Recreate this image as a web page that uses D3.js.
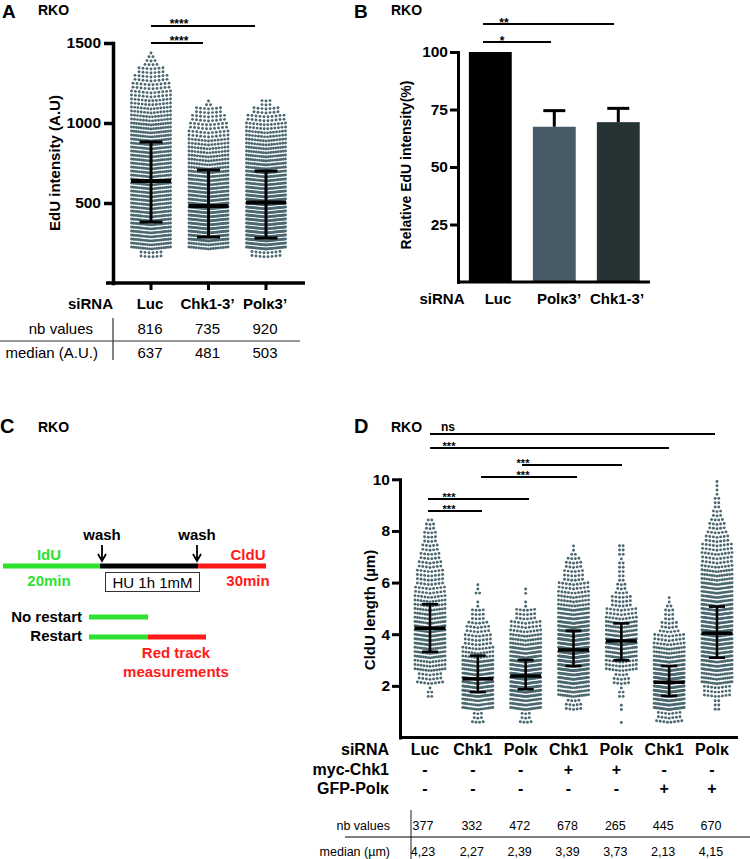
<!DOCTYPE html>
<html><head><meta charset="utf-8">
<script src="https://cdn.jsdelivr.net/npm/d3@7"></script>
<style>
body{margin:0;background:#fff}
svg{display:block}
text{font-family:"Liberation Sans",Arial,Helvetica,sans-serif}
</style>
</head><body>
<svg id="c" width="750" height="859"></svg>
<script>
// ================= DATA =================
// Panel A
const aGroups = ["Luc", "Chk1-3’", "Polκ3’"];
const aNbValues = ["816", "735", "920"];
const aMedianLabels = ["637", "481", "503"];
const aMedian = [637, 481, 503];
const aUpper = [881, 706, 700];
const aLower = [381, 287, 281];
const aYTicks = [500, 1000, 1500];
const aBinStart = 150, aBinStep = 50; // counts per 50 A.U. bin
const aLucBins = [12,36,44,44,44,44,40,40,40,40,40,40,42,40,38,36,34,28,26,24,22,20,18,14,7,3];
const aChkBins = [0,34,64,68,68,66,60,54,48,42,38,32,30,28,26,22,20,18,14,3];
const aPolBins = [16,60,76,78,78,76,72,66,60,54,48,42,38,34,30,28,24,20,14,6];

// Panel B
const bGroups = ["Luc", "Polκ3’", "Chk1-3’"];
const bValues = [100, 67.5, 69.5];
const bErrors = [0, 7, 6];
const bColors = ["#000000", "#465b65", "#253335"];
const bYTicks = [25, 50, 75, 100];

// Panel D
const dSiRNA = ["Luc", "Chk1", "Polκ", "Chk1", "Polκ", "Chk1", "Polκ"];
const dMyc = ["-", "-", "-", "+", "+", "-", "-"];
const dGfp = ["-", "-", "-", "-", "-", "+", "+"];
const dNbValues = ["377", "332", "472", "678", "265", "445", "670"];
const dMedianLabels = ["4,23", "2,27", "2,39", "3,39", "3,73", "2,13", "4,15"];
const dMedian = [4.23, 2.27, 2.38, 3.39, 3.74, 2.14, 4.04];
const dUpper = [5.16, 3.17, 3.0, 4.14, 4.42, 2.77, 5.07];
const dLower = [3.32, 1.76, 1.87, 2.77, 2.99, 1.61, 3.09];
const dYTicks = [2, 4, 6, 8, 10];
const dBinStart = 0.5, dBinStep = 0.5; // counts per 0.5 µm bin
const dLucBins   = [0,0,5,22,34,44,50,46,38,32,26,24,20,16,12,8];
const dChkBins   = [10,46,70,62,50,32,24,20,12,2,4];
const dPolBins   = [10,52,90,96,80,56,38,28,18,2,2];
const dChkMycBins= [0,14,44,80,106,108,98,78,52,34,28,18,14,4];
const dPolMycBins= [1,2,5,14,30,48,50,42,28,18,10,6,5,6];
const dChkGfpBins= [22,70,100,92,64,40,28,16,9,4];
const dPolGfpBins= [0,6,24,44,62,70,74,74,66,58,48,38,28,28,20,14,8,5,3];

// ================= HELPERS =================
const svg = d3.select("#c");
const DOT = "#4b6871";
function txt(g, x, y, s, o = {}) {
  return g.append("text").attr("x", x).attr("y", y).text(s)
    .attr("font-size", o.size || 15)
    .style("font-weight", o.bold ? "bold" : "normal")
    .attr("text-anchor", o.anchor || "start")
    .attr("fill", o.fill || "#000");
}
function line(g, x1, y1, x2, y2, w, c = "#000", cap = "butt") {
  return g.append("line").attr("x1", x1).attr("y1", y1).attr("x2", x2).attr("y2", y2)
    .attr("stroke", c).attr("stroke-width", w).attr("stroke-linecap", cap);
}
// dot layout from binned counts: rows inside each bin, dots spread horizontally
function swarm(bins, start, step, rowsPerBin, maxW, dx) {
  const pts = [];
  bins.forEach((c, i) => {
    const base = Math.floor(c / rowsPerBin), extra = c % rowsPerBin;
    for (let r = 0; r < rowsPerBin; r++) {
      const n = base + (r < extra ? 1 : 0);
      if (!n) continue;
      const v = start + step * i + step * (r + 0.5) / rowsPerBin;
      const sp = n > 1 ? Math.min(dx, maxW / (n - 1)) : 0;
      for (let k = 0; k < n; k++) {
        const off = (k - (n - 1) / 2) * sp;
        pts.push({ v, off, rel: Math.abs(off) / (maxW / 2) });
      }
    }
  });
  return pts;
}
function styleAxis(g, w, size) {
  g.select(".domain").attr("stroke-width", w).attr("stroke-linecap", "square");
  g.selectAll(".tick line").attr("stroke-width", w);
  g.selectAll(".tick text").attr("font-size", size).style("font-weight", "bold")
    .style("font-family", '"Liberation Sans",Arial,sans-serif').attr("fill", "#000");
}

// ================= PANEL A =================
{
  const g = svg.append("g");
  txt(g, 2, 18, "A", { size: 19, bold: true });
  txt(g, 38, 15, "RKO", { size: 14, bold: true });
  const y = d3.scaleLinear().domain([0, 1500]).range([283, 43]);
  const x = d3.scalePoint().domain(aGroups).range([151, 266]);
  const binsList = [aLucBins, aChkBins, aPolBins];
  binsList.forEach((bins, i) => {
    const pts = swarm(bins, aBinStart, aBinStep, 2, 39, 4.0);
    g.append("g").selectAll("circle").data(pts).join("circle")
      .attr("cx", d => x(aGroups[i]) + d.off)
      .attr("cy", d => y(d.v) - d.rel * 2.0)
      .attr("r", 1.45).attr("fill", DOT);
  });
  aGroups.forEach((c, i) => {
    const cx = x(c);
    line(g, cx, y(aUpper[i]), cx, y(aLower[i]), 3);
    line(g, cx - 11.5, y(aUpper[i]), cx + 11.5, y(aUpper[i]), 3);
    line(g, cx - 11.5, y(aLower[i]), cx + 11.5, y(aLower[i]), 3);
    line(g, cx - 20, y(aMedian[i]), cx + 20, y(aMedian[i]), 4);
  });
  const ax = g.append("g").attr("transform", "translate(113,0)")
    .call(d3.axisLeft(y).tickValues(aYTicks).tickFormat(d3.format("d")).tickSize(9).tickSizeOuter(0).tickPadding(3));
  styleAxis(ax, 3.5, 15.5);
  line(g, 106, y(0), 305, y(0), 3.5);
  aGroups.forEach(c => line(g, x(c), y(0), x(c), y(0) + 7, 3));
  g.append("text").attr("transform", "translate(60,163) rotate(-90)")
    .attr("text-anchor", "middle").attr("font-size", 15).style("font-weight", "bold").text("EdU intensity (A.U)");
  // significance
  line(g, 151, 26, 255, 26, 2);
  txt(g, 179, 28, "****", { size: 12, bold: true, anchor: "middle" });
  line(g, 151, 43, 203, 43, 2);
  txt(g, 179, 45, "****", { size: 12, bold: true, anchor: "middle" });
  // table
  txt(g, 113, 309, "siRNA", { bold: true, anchor: "end" });
  aGroups.forEach((c, i) => txt(g, x(c) - 1, 309, c, { bold: true, anchor: "middle" }));
  txt(g, 93, 334, "nb values", { anchor: "end" });
  txt(g, 98, 358, "median (A.U.)", { anchor: "end" });
  line(g, 113, 318, 113, 360, 1.2, "#333");
  line(g, 0, 341, 300, 341, 1, "#333");
  aGroups.forEach((c, i) => {
    txt(g, x(c) - 1, 334, aNbValues[i], { anchor: "middle" });
    txt(g, x(c) - 1, 358, aMedianLabels[i], { anchor: "middle" });
  });
}

// ================= PANEL B =================
{
  const g = svg.append("g");
  txt(g, 354, 18, "B", { size: 19, bold: true });
  txt(g, 391, 15, "RKO", { size: 14, bold: true });
  const y = d3.scaleLinear().domain([0, 100]).range([282, 52]);
  const x = d3.scaleBand().domain(bGroups).range([458, 650.6]).paddingInner(0.33).paddingOuter(0.17);
  g.selectAll("rect.bar").data(bGroups).join("rect")
    .attr("x", d => x(d)).attr("width", x.bandwidth())
    .attr("y", (d, i) => y(bValues[i])).attr("height", (d, i) => y(0) - y(bValues[i]))
    .attr("fill", (d, i) => bColors[i]);
  bGroups.forEach((c, i) => {
    if (!bErrors[i]) return;
    const cx = x(c) + x.bandwidth() / 2;
    line(g, cx, y(bValues[i]), cx, y(bValues[i] + bErrors[i]), 3);
    line(g, cx - 11, y(bValues[i] + bErrors[i]), cx + 11, y(bValues[i] + bErrors[i]), 3);
  });
  const ax = g.append("g").attr("transform", "translate(458,0)")
    .call(d3.axisLeft(y).tickValues(bYTicks).tickSize(8).tickSizeOuter(0).tickPadding(2));
  styleAxis(ax, 3, 15.5);
  line(g, 458, y(0), 650, y(0), 3);
  g.append("text").attr("transform", "translate(411,165) rotate(-90)")
    .attr("text-anchor", "middle").attr("font-size", 14).style("font-weight", "bold").text("Relative EdU intensity(%)");
  line(g, 483, 24, 614, 24, 2);
  txt(g, 504, 27, "**", { size: 12, bold: true, anchor: "middle" });
  line(g, 483, 42, 551, 42, 2);
  txt(g, 502, 45, "*", { size: 12, bold: true, anchor: "middle" });
  txt(g, 442, 304, "siRNA", { bold: true, anchor: "middle" });
  const labX = [498, 559, 617];
  bGroups.forEach((c, i) => txt(g, labX[i], 304, c, { bold: true, anchor: "middle" }));
}

// ================= PANEL C =================
{
  const g = svg.append("g");
  const GREEN = "#2fe12f", RED = "#ff1a1a";
  txt(g, 0, 433, "C", { size: 20, bold: true });
  txt(g, 38, 432, "RKO", { size: 14, bold: true });
  line(g, 3, 566, 100, 566, 5, GREEN);
  line(g, 100, 566, 198, 566, 5, "#000");
  line(g, 198, 566, 266, 566, 5, RED);
  txt(g, 49, 560, "IdU", { size: 15, bold: true, anchor: "middle", fill: GREEN });
  txt(g, 49, 586, "20min", { size: 15, bold: true, anchor: "middle", fill: GREEN });
  txt(g, 248, 560, "CldU", { size: 15, bold: true, anchor: "middle", fill: RED });
  txt(g, 248, 586, "30min", { size: 15, bold: true, anchor: "middle", fill: RED });
  [102, 197].forEach(ax => {
    txt(g, ax, 540, "wash", { size: 15, bold: true, anchor: "middle" });
    line(g, ax, 545, ax, 561, 1.8);
    g.append("path").attr("d", `M${ax - 4},${554} L${ax},${561} L${ax + 4},${554}`)
      .attr("fill", "none").attr("stroke", "#000").attr("stroke-width", 1.8);
  });
  g.append("rect").attr("x", 105.5).attr("y", 572.5).attr("width", 94).attr("height", 19)
    .attr("fill", "none").attr("stroke", "#333").attr("stroke-width", 1);
  txt(g, 152.5, 588, "HU 1h 1mM", { size: 15, anchor: "middle" });
  txt(g, 82, 622, "No restart", { size: 15, bold: true, anchor: "end" });
  line(g, 89, 617, 148, 617, 5, GREEN);
  txt(g, 82, 641, "Restart", { size: 15, bold: true, anchor: "end" });
  line(g, 89, 637, 148, 637, 5, GREEN);
  line(g, 148, 637, 206, 637, 5, RED);
  txt(g, 176, 658, "Red track", { size: 15, bold: true, anchor: "middle", fill: RED });
  txt(g, 176, 677, "measurements", { size: 15, bold: true, anchor: "middle", fill: RED });
}

// ================= PANEL D =================
{
  const g = svg.append("g");
  txt(g, 354, 433, "D", { size: 20, bold: true });
  txt(g, 391, 432, "RKO", { size: 14, bold: true });
  const y = d3.scaleLinear().domain([0, 10]).range([737.5, 479.3]);
  const idx = d3.range(dSiRNA.length);
  const x = d3.scalePoint().domain(idx).range([430, 717]);
  const binsList = [dLucBins, dChkBins, dPolBins, dChkMycBins, dPolMycBins, dChkGfpBins, dPolGfpBins];
  binsList.forEach((bins, i) => {
    const pts = swarm(bins, dBinStart, dBinStep, 3, 30, 3.6);
    g.append("g").selectAll("circle").data(pts).join("circle")
      .attr("cx", d => x(i) + d.off)
      .attr("cy", d => y(d.v) - d.rel * 2.0)
      .attr("r", 1.45).attr("fill", DOT);
  });
  idx.forEach(i => {
    const cx = x(i);
    line(g, cx, y(dUpper[i]), cx, y(dLower[i]), 2.6);
    line(g, cx - 8, y(dUpper[i]), cx + 8, y(dUpper[i]), 2.6);
    line(g, cx - 8, y(dLower[i]), cx + 8, y(dLower[i]), 2.6);
    line(g, cx - 15.5, y(dMedian[i]), cx + 15.5, y(dMedian[i]), 3.5);
  });
  const ax = g.append("g").attr("transform", "translate(400,0)")
    .call(d3.axisLeft(y).tickValues(dYTicks).tickSize(8).tickSizeOuter(0).tickPadding(2));
  styleAxis(ax, 3, 15.5);
  line(g, 400, y(0), 738, y(0), 3);
  g.append("text").attr("transform", "translate(375,610) rotate(-90)")
    .attr("text-anchor", "middle").attr("font-size", 15).style("font-weight", "bold").text("CldU length (µm)");
  // significance bars
  const sig = [
    [430, 715, 434, "ns", 448, 431],
    [430, 669, 448, "***", 449, 450],
    [522, 622, 465, "***", 523, 467],
    [481, 577, 477, "***", 523, 479],
    [428, 529, 499, "***", 449, 501],
    [428, 482, 511, "***", 449, 513]
  ];
  sig.forEach(s => {
    line(g, s[0], s[2], s[1], s[2], 2);
    txt(g, s[4], s[5], s[3], { size: s[3] === "ns" ? 12 : 11, bold: true, anchor: "middle" });
  });
  // table
  txt(g, 389, 755, "siRNA", { size: 16, bold: true, anchor: "end" });
  txt(g, 389, 775, "myc-Chk1", { size: 16, bold: true, anchor: "end" });
  txt(g, 389, 794, "GFP-Polκ", { size: 16, bold: true, anchor: "end" });
  idx.forEach(i => {
    const lx = x(i) - 5;
    txt(g, lx, 755, dSiRNA[i], { size: 16, bold: true, anchor: "middle" });
    txt(g, lx, 775, dMyc[i], { size: 16, bold: true, anchor: "middle" });
    txt(g, lx, 794, dGfp[i], { size: 16, bold: true, anchor: "middle" });
  });
  txt(g, 390, 830, "nb values", { size: 12.5, anchor: "end" });
  txt(g, 390, 856, "median (µm)", { size: 12.5, anchor: "end" });
  line(g, 411, 810, 411, 859, 1.2, "#444");
  line(g, 345, 837, 750, 837, 1.2, "#000");
  idx.forEach(i => {
    const vx = i === 0 ? 423 : x(i) - 6;
    txt(g, vx, 830, dNbValues[i], { size: 12.5, anchor: "middle" });
    txt(g, vx, 856, dMedianLabels[i], { size: 12.5, anchor: "middle" });
  });
}
</script>
</body></html>
